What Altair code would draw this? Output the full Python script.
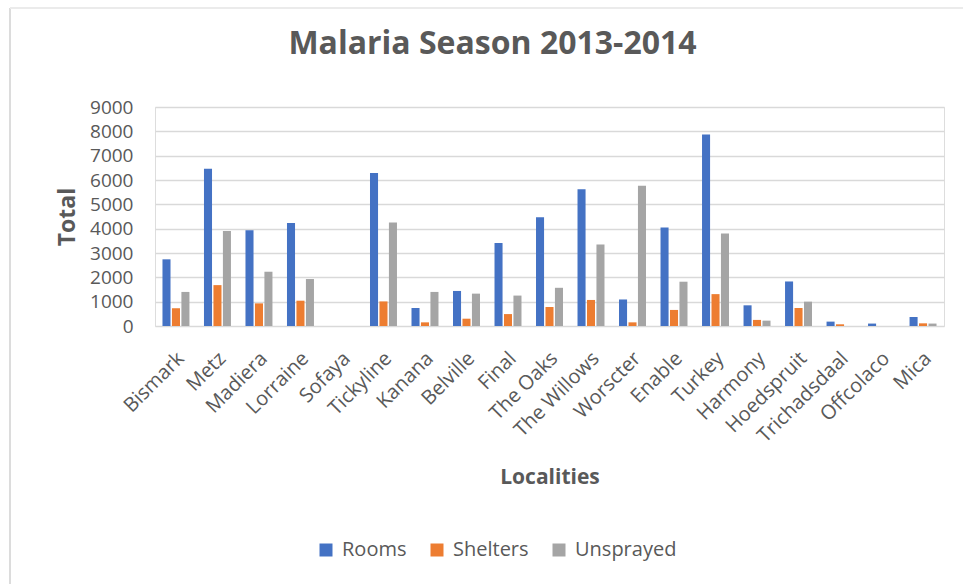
import altair as alt
import pandas as pd

localities = ["Bismark", "Metz", "Madiera", "Lorraine", "Sofaya", "Tickyline", "Kanana",
              "Belville", "Final", "The Oaks", "The Willows", "Worscter", "Enable", "Turkey",
              "Harmony", "Hoedspruit", "Trichadsdaal", "Offcolaco", "Mica"]
rooms = [2740, 6460, 3930, 4230, 0, 6290, 740, 1440, 3410, 4470, 5620, 1090, 4050, 7870,
         850, 1830, 180, 100, 370]
shelters = [730, 1680, 930, 1040, 0, 1010, 150, 300, 490, 780, 1070, 150, 660, 1310,
            250, 740, 70, 0, 110]
unsprayed = [1400, 3900, 2230, 1930, 0, 4250, 1400, 1330, 1250, 1570, 3350, 5760, 1820, 3800,
             220, 1000, 0, 0, 100]
series = ["Rooms", "Shelters", "Unsprayed"]
colors = ["#4472C4", "#ED7D31", "#A5A5A5"]
y_ticks = [0, 1000, 2000, 3000, 4000, 5000, 6000, 7000, 8000, 9000]

rows = []
for name, vals in zip(series, [rooms, shelters, unsprayed]):
    for loc, v in zip(localities, vals):
        rows.append({"Locality": loc, "Series": name, "Value": v})
df = pd.DataFrame(rows)

FONT = "Open Sans"
GRAY = "#595959"

bars = alt.Chart(df).mark_bar().encode(
    x=alt.X("Locality:N", sort=localities,
            scale=alt.Scale(paddingInner=0.35, paddingOuter=0.18),
            axis=alt.Axis(title="Localities", labelAngle=-45, labelAlign="right",
                          labelBaseline="top", labelFontSize=20, labelColor=GRAY,
                          labelFont=FONT, labelPadding=22, labelOffset=-2,
                          ticks=False, domain=False, grid=False,
                          titleFont=FONT, titleFontSize=21, titleFontWeight="bold",
                          titleColor=GRAY, titlePadding=21)),
    xOffset=alt.XOffset("Series:N", sort=series, scale=alt.Scale(paddingInner=0.15)),
    y=alt.Y("Value:Q", scale=alt.Scale(domain=[0, 9000], nice=False),
            axis=alt.Axis(title="Total", values=y_ticks, format="d", labelFontSize=19,
                          labelColor=GRAY, labelFont=FONT, labelPadding=22,
                          ticks=False, domain=False, gridColor="#D9D9D9", gridWidth=1.5,
                          titleFont=FONT, titleFontSize=23, titleFontWeight="bold",
                          titleColor=GRAY, titlePadding=10)),
    color=alt.Color("Series:N", sort=series,
                    scale=alt.Scale(domain=series, range=colors),
                    legend=alt.Legend(title=None, orient="none", direction="horizontal",
                                      legendX=161, legendY=433, symbolType="square",
                                      symbolSize=169, symbolStrokeWidth=0,
                                      labelFont=FONT, labelFontSize=20, labelColor=GRAY,
                                      columnPadding=20, labelOffset=6)),
)

frame_df = pd.DataFrame({"f": [0]})
frame_left = alt.Chart(frame_df).mark_rule(color="#DCDCDC", strokeWidth=2).encode(
    x=alt.value(-145), y=alt.value(-99), y2=alt.value(477))
frame_top = alt.Chart(frame_df).mark_rule(color="#EBEBEB", strokeWidth=2).encode(
    x=alt.value(-145), x2=alt.value(808), y=alt.value(-99))

chart = alt.layer(frame_left, frame_top, bars).properties(
    width=789, height=219,
    title=alt.TitleParams("Malaria Season 2013-2014", font=FONT, fontSize=32,
                          fontWeight="bold", color=GRAY, anchor="middle", dx=-57,
                          offset=-54),
    autosize=alt.AutoSizeParams(type="none"),
    padding={"left": 155, "top": 107, "right": 19, "bottom": 258},
).configure_view(stroke=None).configure(background="white")

chart.save("out.html", embed_options={"renderer": "svg", "actions": False})
